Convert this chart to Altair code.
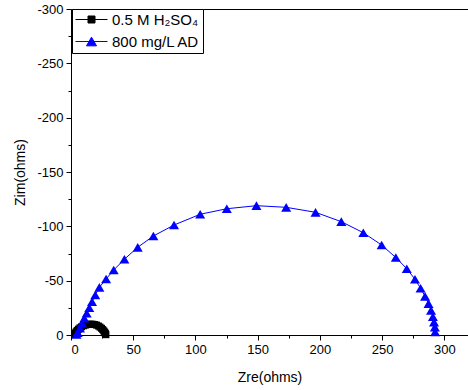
import altair as alt
import pandas as pd

# ---- data ----
series_names = ["0.5 M H₂SO₄", "800 mg/L AD"]
series_colors = ["#000000", "#0000ff"]
series_shapes = ["square", "triangle-up"]
series_sizes = [49, 100]

h2so4_zre = [3.0, 3.5, 4.2, 5.0, 6.0, 7.2, 8.5, 10.0, 11.5, 13.0, 14.5, 16.0,
             17.5, 19.0, 20.5, 22.0, 23.3, 24.5, 25.5, 26.3, 27.0, 27.5, 27.8, 28.0]
h2so4_zim = [-0.5, -1.8, -3.0, -4.2, -5.4, -6.6, -7.6, -8.5, -9.1, -9.6, -9.9, -10.0,
             -9.9, -9.6, -9.1, -8.3, -7.3, -6.2, -5.0, -3.8, -2.7, -1.7, -0.9, -0.3]

ad_zre = [4.4, 5.4, 7.2, 8.8, 10.7, 12.6, 14.7, 16.9, 19.5, 22.8, 28.2, 34.3,
          42.9, 53.6, 66.2, 82.8, 103.8, 125.2, 149.0, 172.9, 196.5, 217.2, 234.9,
          249.6, 261.0, 269.8, 276.4, 280.9, 284.5, 287.3, 289.3, 290.8, 291.7,
          292.4, 292.6]
ad_zim = [-0.5, -2.1, -6.2, -10.8, -15.4, -20.0, -25.1, -30.6, -36.8, -43.9, -51.5,
          -59.8, -69.7, -80.7, -91.1, -101.2, -111.1, -116.2, -119.0, -117.5, -112.9,
          -104.3, -94.1, -82.8, -71.3, -61.0, -51.3, -43.0, -35.6, -28.8, -22.7,
          -16.8, -11.8, -7.2, -2.8]

x_ticks = list(range(0, 301, 25))
y_ticks = list(range(-300, 1, 25))

rows = []
for i, (x, y) in enumerate(zip(h2so4_zre, h2so4_zim)):
    rows.append({"series": series_names[0], "zre": x, "zim": y, "order": i})
for i, (x, y) in enumerate(zip(ad_zre, ad_zim)):
    rows.append({"series": series_names[1], "zre": x, "zim": y, "order": i})
df = pd.DataFrame(rows)

FONT = "Liberation Sans"

x_scale = alt.Scale(domain=[0, 319], nice=False, zero=False)
y_scale = alt.Scale(domain=[-300, 0], reverse=True, nice=False, zero=False)
color_scale = alt.Scale(domain=series_names, range=series_colors)


def minor_tick(step):
    return {"condition": {"test": f"datum.value % {step} != 0", "value": 3}, "value": 5}


x_axis = alt.Axis(
    values=x_ticks,
    labelExpr="datum.value % 50 == 0 ? toString(datum.value) : ''",
    tickSize=minor_tick(50),
    grid=False, domainColor="black", tickColor="black", labelColor="black",
    labelFont=FONT, labelFontSize=13, labelPadding=3, labelOverlap=False,
    title="Zre(ohms)", titleFont=FONT, titleFontSize=14, titleFontWeight="normal",
    titleColor="black", titlePadding=14,
)
y_axis = alt.Axis(
    values=y_ticks,
    labelExpr="datum.value % 50 == 0 ? toString(datum.value) : ''",
    tickSize=minor_tick(50),
    grid=False, domainColor="black", tickColor="black", labelColor="black",
    labelFont=FONT, labelFontSize=13, labelPadding=3, labelOverlap=False,
    title="Zim(ohms)", titleFont=FONT, titleFontSize=14, titleFontWeight="normal",
    titleColor="black", titlePadding=9,
)

base = alt.Chart(df)

layers = []
for k, (name, col, shp, sz) in enumerate(zip(series_names, series_colors, series_shapes, series_sizes)):
    sub = base.transform_filter(alt.datum.series == name)
    layers.append(sub.mark_line(strokeWidth=1, color=col).encode(
        x=alt.X("zre:Q", scale=x_scale, axis=x_axis if k == 0 else None),
        y=alt.Y("zim:Q", scale=y_scale, axis=y_axis),
        order="order:Q",
    ))
    layers.append(sub.mark_point(shape=shp, filled=True, size=sz, opacity=1, color=col).encode(
        x=alt.X("zre:Q", scale=x_scale, axis=None),
        y=alt.Y("zim:Q", scale=y_scale, axis=y_axis),
    ))

sq_path = "M-3.2,0H3.2M-0.7,-0.7H0.7V0.7H-0.7Z"
tri_path = "M-3.2,0H3.2M0,-0.87L1,0.87H-1Z"

leg = alt.Legend(
    title=None, orient="none", legendX=1, legendY=0,
    fillColor="white", strokeColor="black", padding=3,
    symbolSize=100, symbolOffset=9, labelOffset=13, symbolStrokeWidth=1,
    symbolOpacity=1, labelFont=FONT, labelFontSize=15, labelColor="black",
    rowPadding=6,
)

# legend-only layer (no data rows drawn) that also carries the top frame line
legend_layer = base.transform_filter("false").mark_point(opacity=1, filled=True).encode(
    x=alt.X("zre:Q", scale=x_scale,
            axis=alt.Axis(orient="top", labels=False, ticks=False, title=None,
                          domainColor="black", grid=False)),
    y=alt.Y("zim:Q", scale=y_scale, axis=y_axis),
    fill=alt.Fill("series:N", scale=color_scale, legend=leg),
    stroke=alt.Stroke("series:N", scale=color_scale, legend=leg),
    shape=alt.Shape("series:N", scale=alt.Scale(domain=series_names, range=[sq_path, tri_path]), legend=leg),
)

chart = alt.layer(*layers, legend_layer).resolve_axis(
    x="independent"
).properties(
    width=397, height=326,
    autosize=alt.AutoSizeParams(type="none"),
    padding={"left": 71, "top": 9, "right": 0, "bottom": 55},
    background="white",
).configure_view(stroke=None)

chart.save("out.html", embed_options={"renderer": "svg", "actions": False})
